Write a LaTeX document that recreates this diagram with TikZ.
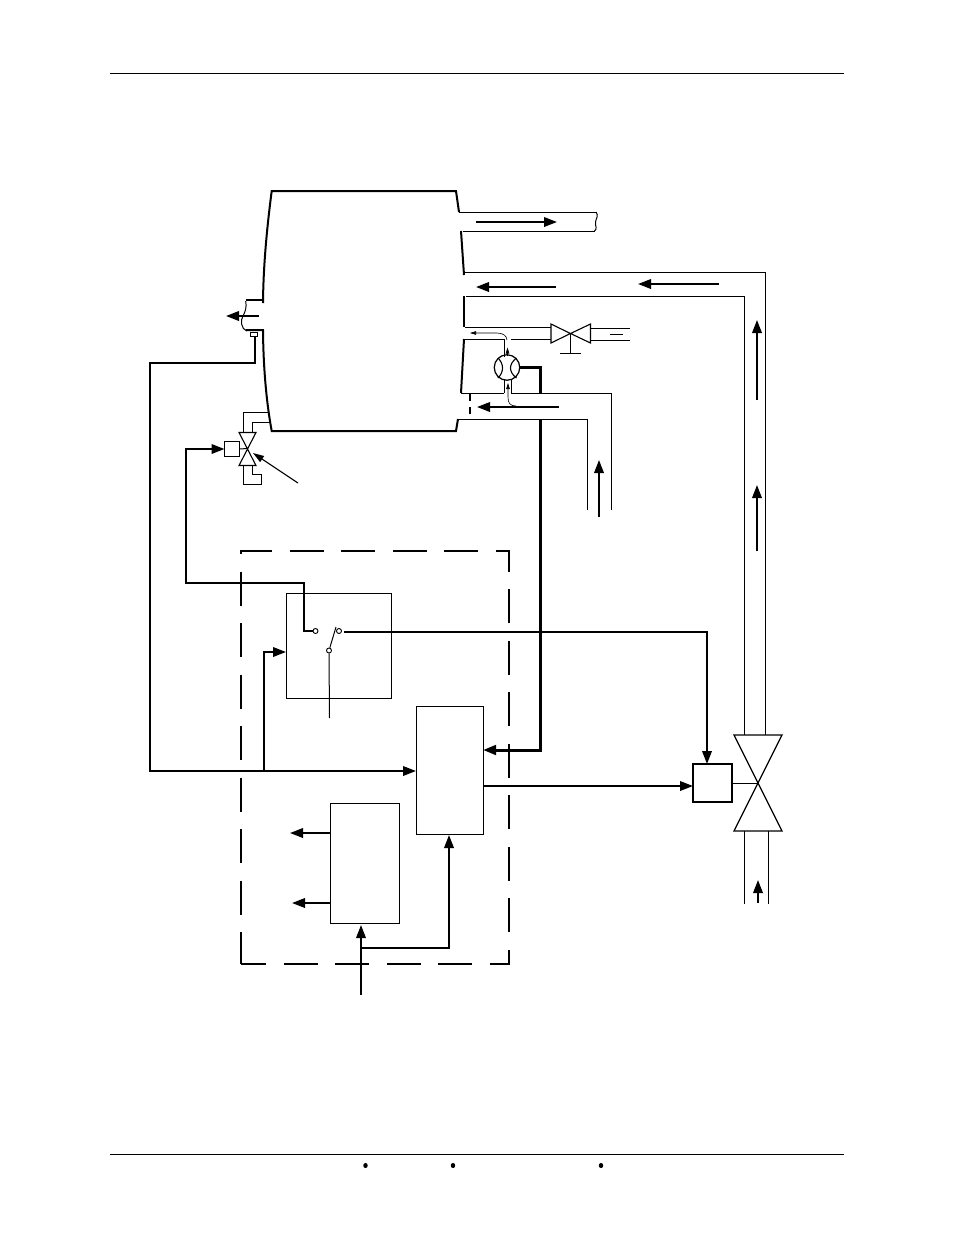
\documentclass[tikz,border=0pt]{standalone}
\usetikzlibrary{arrows.meta,calc}
\tikzset{
  x=1pt,y=-1pt,
  thinl/.style={line width=1pt,line cap=butt},
  med/.style={line width=2pt},
  thick3/.style={line width=3pt},
  sig/.style={line width=2pt,-{Triangle[length=13pt,width=9.5pt]}},
  flow/.style={line width=2pt,-{Triangle[length=13pt,width=9.5pt]}},
  tiny/.style={line width=.6pt,-{Triangle[length=6pt,width=3.5pt]}},
  boxn/.style={draw,line width=1.1pt,inner sep=0pt,outer sep=0pt,anchor=north west},
  contact/.style={circle,draw,fill=white,line width=.9pt,inner sep=0pt,minimum size=5pt},
}
\begin{document}
\begin{tikzpicture}
\useasboundingbox (0,0) rectangle (954,1235);
\fill[white] (0,0) rectangle (954,1235);
% page rules
\draw[line width=1pt] (110,73.5) -- (844,73.5);
\draw[line width=1pt] (110,1154.5) -- (844,1154.5);
\foreach \bx in {365.5,453,601} \fill (\bx,1165.5) ellipse (2.2pt and 2.6pt);
% vessel
\draw[med] (263,303) .. controls (263.3,270) and (266,235) .. (271.7,191) -- (456,191) .. controls (457,198) and (458,205) .. (459,212);
\draw[med] (263,300) -- (245.5,300);
\draw[med] (246,330) -- (263,330) .. controls (263.3,365) and (266,400) .. (271.7,431) -- (456,431) -- (458,419);
\draw[med] (461,231) -- (464,275);
\draw[med] (464,296) -- (464,327);
\draw[med] (464,339) -- (461,393);
\draw[line width=1.1pt] (459,212.5) -- (597,212.5);
\draw[line width=1.1pt] (463,231.5) -- (595,231.5);
\draw[thinl] (596,212) .. controls (599,216) and (596,218) .. (595.5,222) .. controls (595,226) and (598,229) .. (594,231.5);
% hot pipes
\draw[line width=1.1pt] (465,272.5) -- (765.5,272.5) -- (765.5,735);
\draw[line width=1.1pt] (466,296.5) -- (744.5,296.5) -- (744.5,735);
\draw[thinl] (465,327.5) -- (551,327.5);
\draw[thinl] (465,339.5) -- (504,339.5);
\draw[thinl] (511,339.5) -- (551,339.5);
\draw[thinl] (461,393.5) -- (504,393.5);
\draw[thinl] (511,393.5) -- (611.5,393.5) -- (611.5,510);
\draw[thinl] (458,419.5) -- (587.5,419.5) -- (587.5,510);
\draw[line width=2pt,dash pattern=on 7pt off 6pt] (470,394) -- (470,419);
% exit stub
\draw[thinl] (245.7,301) .. controls (247,307) and (245,312) .. (243.5,315) .. controls (240,320) and (241,329) .. (246.7,331);
\draw[flow] (259,316) -- (226,316);
% level valve on top pipe
\coordinate (vc) at (570.5,333.5);
\draw[line width=1.1pt] (vc) -- (551,324) -- (551,343) -- cycle;
\draw[line width=1.1pt] (vc) -- (590.5,324) -- (590.5,343) -- cycle;
\draw[thinl] (vc) -- (570.5,353);
\draw[thinl] (560,353.5) -- (581,353.5);
\draw[thinl] (591,328.5) -- (630,328.5);
\draw[thinl] (591,340.5) -- (630,340.5);
\draw[thinl] (610,334.5) -- (623,334.5);
% venturi
\draw[line width=1.1pt] (504.5,339) -- (504.5,357);
\draw[line width=1.1pt] (504.5,380) -- (504.5,393);
\draw[line width=1.1pt] (511.5,380) -- (511.5,393);
\node[draw,circle,line width=1.2pt,minimum size=25.5pt,inner sep=0pt,outer sep=0pt] (venturi) at (507,367.5) {};
\draw[line width=1.1pt] (498,358) .. controls (504,364) and (504,372) .. (498,378);
\draw[line width=1.1pt] (516.5,358) .. controls (508.5,364) and (508.5,372) .. (516.5,378);
\draw[tiny] (507.5,356) -- (507.5,347.5);
\draw[tiny] (507,340) .. controls (507,336) and (503,333) .. (497,333) -- (470,333);
\draw[tiny] (516,406) .. controls (510,406) and (508,403) .. (508,397) -- (508,383);
% sensor wires
\coordinate (thermo) at (255,337);
\draw[line width=.9pt] (250.5,332.5) rectangle (257,336.5);
% steam valve small
\coordinate (sv) at (247.5,448.5);
\draw[line width=1.1pt] (239,432.5) -- (256,432.5) -- (239,465.5) -- (256,465.5) -- cycle;
\node[boxn,minimum width=15pt,minimum height=15pt] (sact) at (224.5,441.5) {};
\draw[thinl] (sact.east) -- (sv);
\draw[thinl] (269,412.5) -- (243.5,412.5) -- (243.5,432);
\draw[thinl] (269.5,422.5) -- (252.5,422.5) -- (252.5,432);
\draw[thinl] (243.5,466) -- (243.5,484.5) -- (261.5,484.5) -- (261.5,474.5) -- (252.5,474.5) -- (252.5,466);
\coordinate (svnote) at (298,483);
\draw[line width=1.1pt,-{Triangle[length=11pt,width=7pt]}] (svnote) -- (253,453);
% flow arrows
\draw[flow] (476,222) -- (557,222);
\draw[flow] (556,287) -- (476,287);
\draw[flow] (719,284) -- (638,284);
\draw[flow] (559,407) -- (477,407);
\draw[flow] (757,400) -- (757,320);
\draw[flow] (757,551) -- (757,485);
\draw[flow] (599,517) -- (599,460);
\draw[flow] (758,903) -- (758,880);
% main valve
\coordinate (mv) at (758,783);
\draw[line width=1.3pt] (734,735) -- (782,735) -- (734,831) -- (782,831) -- cycle;
\draw[thinl] (744.5,831) -- (744.5,904);
\draw[thinl] (768.5,831) -- (768.5,904);
\node[boxn,line width=1.3pt,minimum width=39pt,minimum height=38pt] (act) at (693,764) {};
\draw[thinl] (act.east |- mv) -- (mv);
% dashed enclosure
\draw[line width=2.2pt,dash pattern=on 34pt off 17.5pt,dash phase=9pt] (241,964) -- (509,964) -- (509,551) -- (241,551) -- cycle;
% switch box
\node[boxn,minimum width=105pt,minimum height=105pt] (sw) at (286.5,593.5) {};
\node[contact] (c1) at (315.5,631) {};
\node[contact] (c2) at (339,631) {};
\node[contact] (c3) at (329,650.5) {};
\draw[thinl] (c3) -- (336,627);
\draw[thinl] (c3.south) -- (329.5,718);
% controller box
\node[boxn,minimum width=67pt,minimum height=128pt] (ctl) at (416.5,706.5) {};
% power box
\node[boxn,minimum width=69pt,minimum height=120pt] (pw) at (330.5,803.5) {};
% signal lines
\draw[sig] (c1.west) -- (304,631) -- (304,583) -- (186,583) -- (186,449) -- (sact.west);
\draw[sig] (344,632) -- (707,632) -- (707,764);
\draw[sig] (thermo) -- (255,363) -- (150,363) -- (150,771) -- (416,771);
\draw[sig] (264,771) -- (264,652) -- (286,652);
\draw[thick3] (venturi.east) -- (540.5,367.5) -- (540.5,393);
\draw[sig,line width=3pt] (540.5,419) -- (540.5,750) -- (483,750);
\draw[sig] (483,786) -- (act.west |- 0,786);
\draw[sig] (pw.west |- 0,833) -- (290,833);
\draw[sig] (pw.west |- 0,903) -- (292,903);
\draw[sig] (361,995) -- (361,925);
\draw[sig] (361,948) -- (449,948) -- (449,835);
\end{tikzpicture}
\end{document}
